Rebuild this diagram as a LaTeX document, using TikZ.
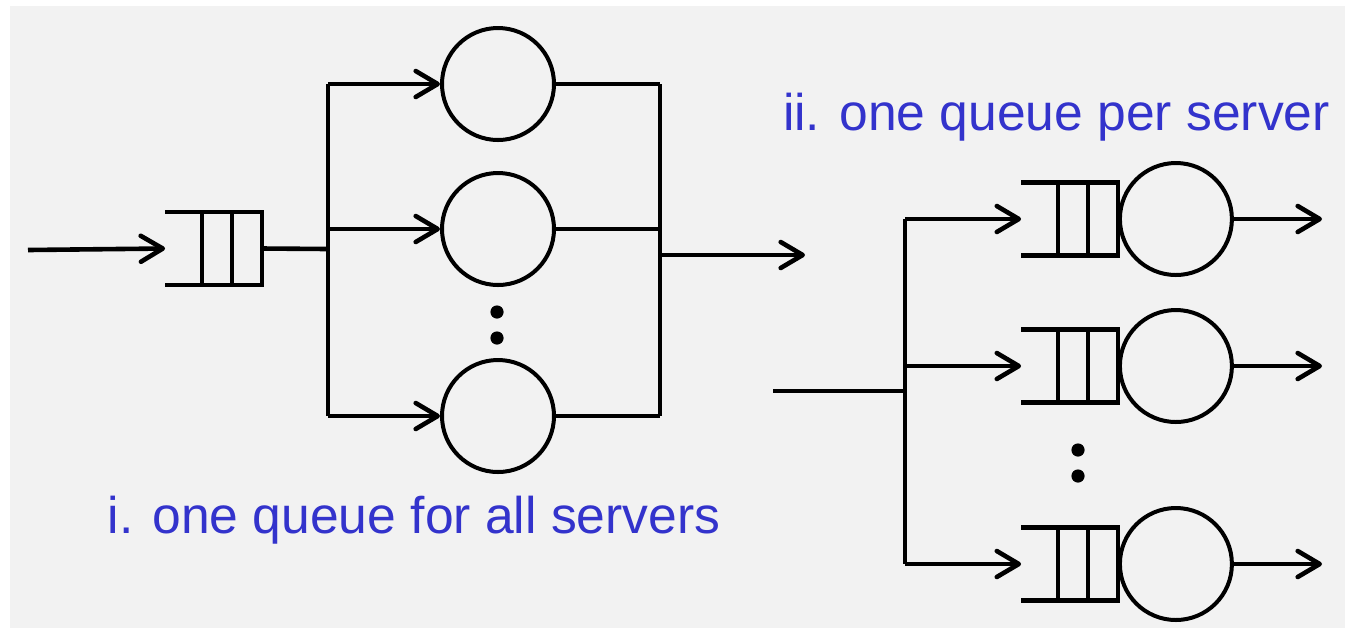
\documentclass[tikz,border=0pt]{standalone}
\usepackage{fontspec}
\setmainfont{Liberation Sans}
\usetikzlibrary{positioning, arrows.meta, calc}
\definecolor{bggray}{HTML}{F2F2F2}
\definecolor{capblue}{HTML}{3333CC}

\begin{document}
\begin{tikzpicture}[x=0.5pt, y=-0.5pt,
    wire/.style={line width=2.3pt},
    arr/.style={wire, -{Straight Barb[length=11pt, width=13pt, line cap=round, line join=round]}},
    server/.style={circle, draw, line width=2pt, minimum size=56pt, inner sep=0pt},
    queuebox/.style={minimum width=48pt, minimum height=36pt, inner sep=0pt},
    caption/.style={text=capblue, font=\fontsize{25.8}{30}\selectfont, anchor=base}]
    \useasboundingbox (0,0) rectangle (1345,629);
    \fill[bggray] (10,6) rectangle (1345,628);

    % i. one queue for all servers
    \coordinate (in1) at (28,250);
    \node[queuebox] (q0) at (213.5,248.5) {};
    \coordinate (split1) at (328,249);
    \node[server] (s1) at (498,84) {};
    \node[server] (s2) at (498,229) {};
    \node[server] (s3) at (498,416) {};
    \coordinate (join1) at (660,255);
    \coordinate (out1) at (805,255);

    \draw[arr] (in1) -- (q0.west);
    \draw[wire] (q0.east) -- (split1);
    \draw[wire] (split1 |- s1) -- (split1 |- s3);
    \draw[arr] (split1 |- s1) -- (s1);
    \draw[arr] (split1 |- s2) -- (s2);
    \draw[arr] (split1 |- s3) -- (s3);
    \draw[wire] (s1.east) -- (join1 |- s1);
    \draw[wire] (s2.east) -- (join1 |- s2);
    \draw[wire] (s3.east) -- (join1 |- s3);
    \draw[wire] (join1 |- s1) -- (join1 |- s3);
    \draw[arr] (join1) -- (out1);
    \fill (497,312) circle[radius=3.3pt];
    \fill (497,338) circle[radius=3.3pt];

    \node[caption] (cap1) at (414,533) {i. one queue for all servers};

    % ii. one queue per server
    \coordinate (in2) at (773,391);
    \coordinate (split2) at (905,391);
    \node[queuebox] (q1) at (1069.5,219) {};
    \node[queuebox] (q2) at (1069.5,366) {};
    \node[queuebox] (q3) at (1069.5,564) {};
    \node[server, right=0pt of q1] (t1) {};
    \node[server, right=0pt of q2] (t2) {};
    \node[server, right=0pt of q3] (t3) {};
    \coordinate (out2) at (1322,217);

    \draw[wire] (in2) -- (split2);
    \draw[wire] (split2 |- q1) -- (split2 |- q3);
    \draw[arr] (split2 |- q1) -- (q1.west);
    \draw[arr] (split2 |- q2) -- (q2.west);
    \draw[arr] (split2 |- q3) -- (q3.west);
    \draw[arr] (t1.east) -- (out2 |- t1);
    \draw[arr] (t2.east) -- (out2 |- t2);
    \draw[arr] (t3.east) -- (out2 |- t3);
    \fill (1078,450) circle[radius=3.3pt];
    \fill (1078,476) circle[radius=3.3pt];

    \node[caption] (cap2) at (1056.5,130) {ii. one queue per server};

    % queue boxes
    \foreach \q in {q0,q1,q2,q3} {
        \draw[wire] (\q.north west) -- (\q.north east) -- (\q.south east) -- (\q.south west);
        \draw[wire] ($(\q.north west)!0.38!(\q.north east)$) -- ($(\q.south west)!0.38!(\q.south east)$);
        \draw[wire] ($(\q.north west)!0.69!(\q.north east)$) -- ($(\q.south west)!0.69!(\q.south east)$);
    }
\end{tikzpicture}
\end{document}
